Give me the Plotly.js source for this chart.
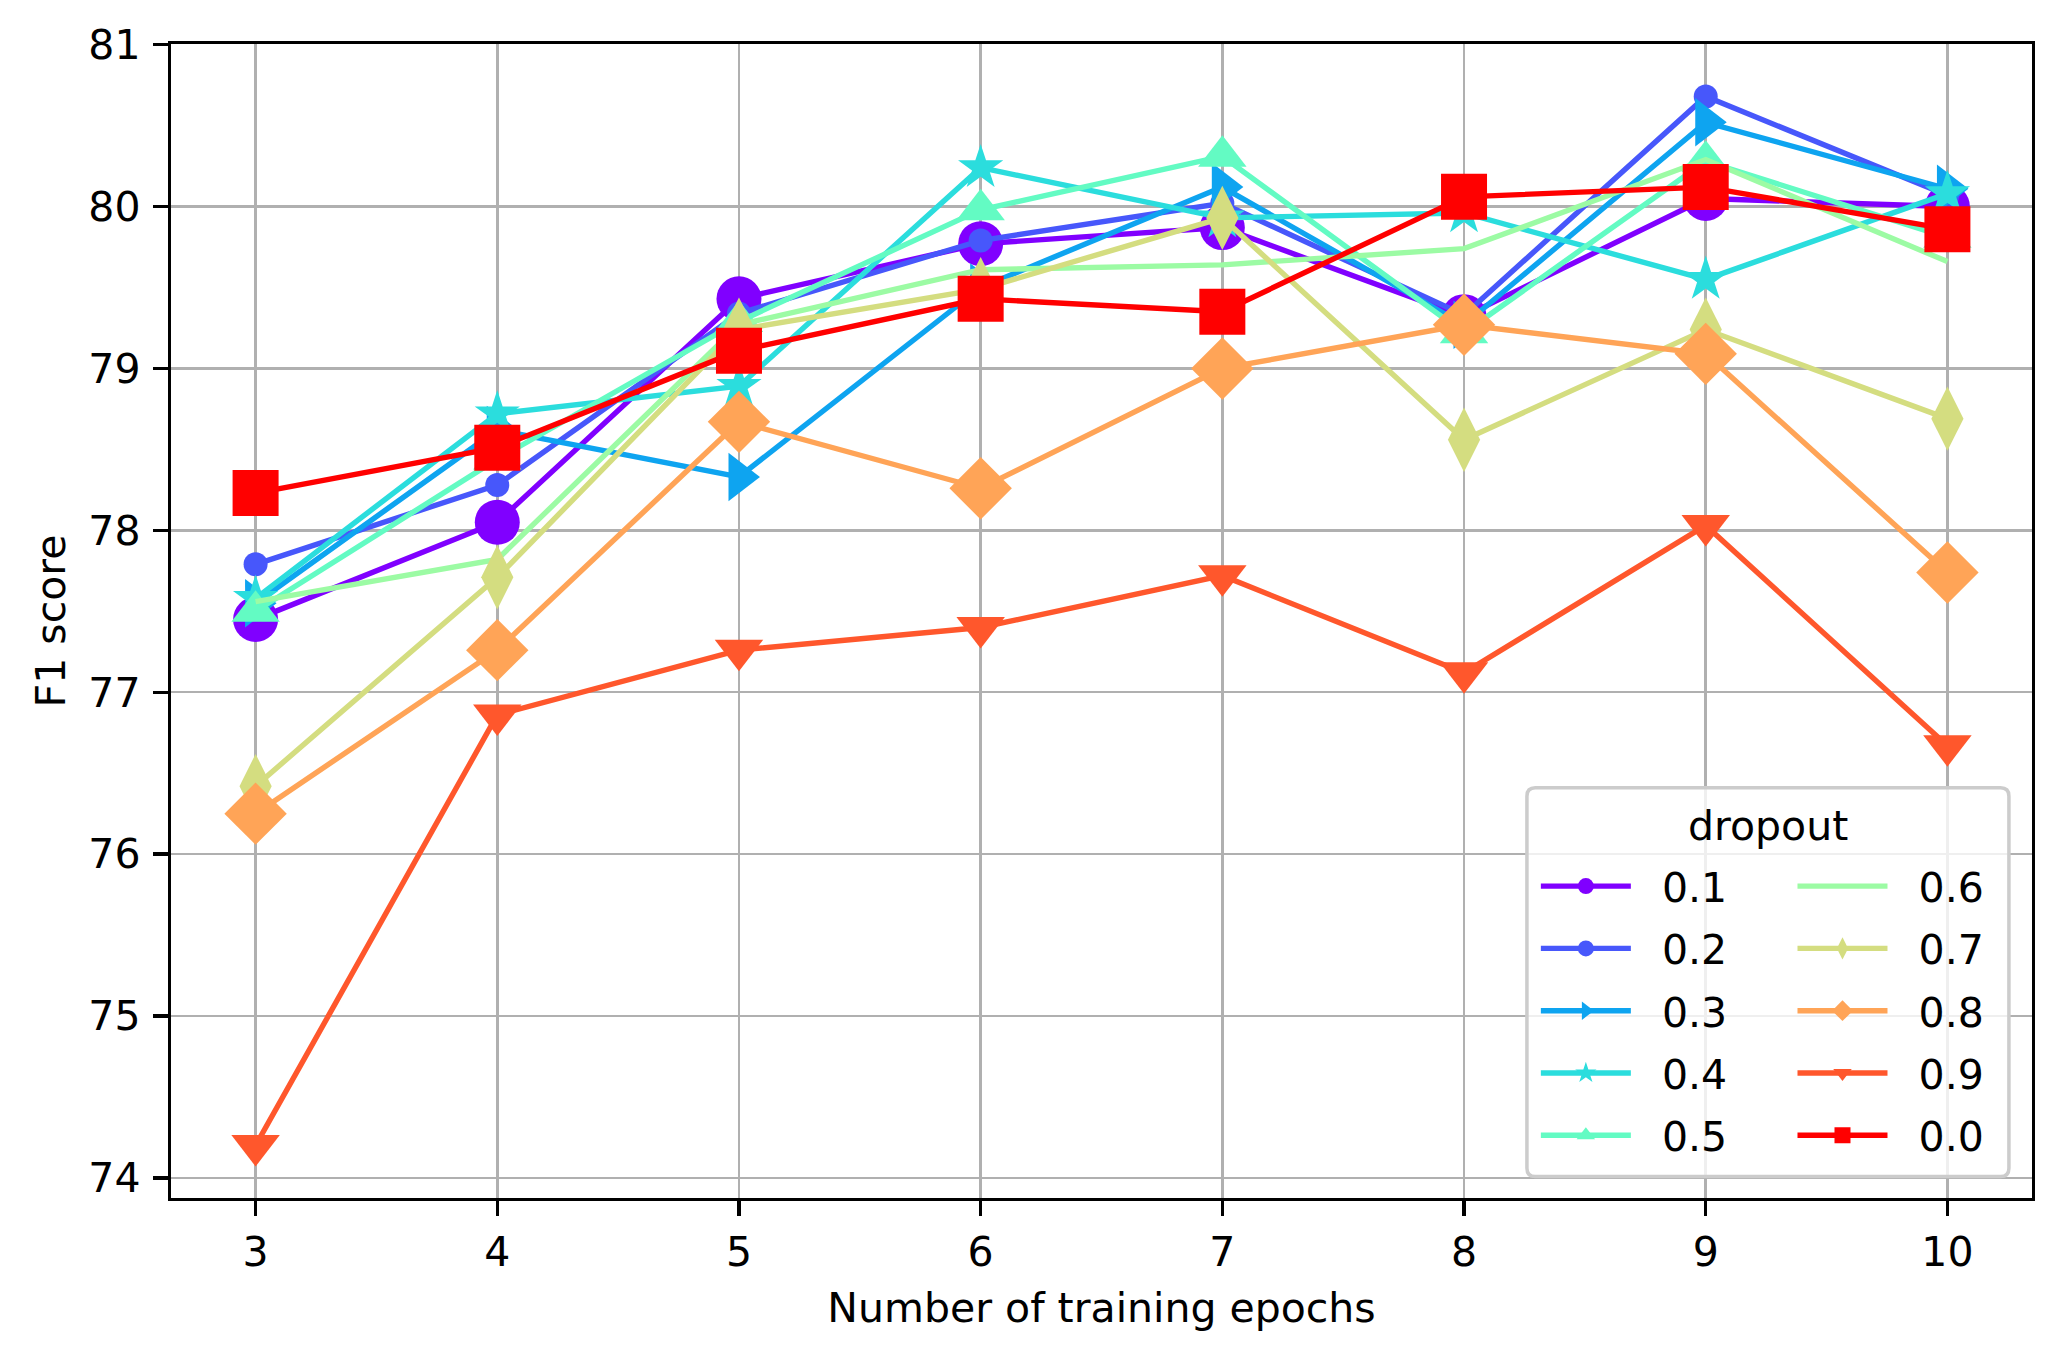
<!DOCTYPE html>
<html>
<head>
<meta charset="utf-8">
<script src="https://cdn.plot.ly/plotly-3.0.1.min.js"></script>
<style>
  body { margin: 0; padding: 0; background: #ffffff; }
  #chart { width: 2060px; height: 1358px; }
</style>
</head>
<body>
<div id="chart"></div>
<script>
// epochs on the x axis
var epochs = [3, 4, 5, 6, 7, 8, 9, 10];

// F1 score per dropout value
var f1_d01 = [77.45, 78.05, 79.43, 79.77, 79.87, 79.32, 80.05, 80.00];
var f1_d02 = [77.79, 78.28, 79.34, 79.79, 80.02, 79.33, 80.68, 80.07];
var f1_d03 = [77.55, 78.62, 78.33, 79.50, 80.12, 79.27, 80.52, 80.11];
var f1_d04 = [77.58, 78.72, 78.89, 80.24, 79.93, 79.96, 79.55, 80.08];
var f1_d05 = [77.50, 78.44, 79.29, 79.98, 80.31, 79.22, 80.28, 79.81];
var f1_d06 = [77.56, 77.82, 79.27, 79.61, 79.64, 79.74, 80.29, 79.66];
var f1_d07 = [76.42, 77.71, 79.24, 79.49, 79.93, 78.56, 79.24, 78.69];
var f1_d08 = [76.25, 77.26, 78.67, 78.26, 79.00, 79.27, 79.09, 77.74];
var f1_d09 = [74.20, 76.86, 77.26, 77.40, 77.72, 77.12, 78.03, 76.67];
var f1_d00 = [78.23, 78.51, 79.11, 79.43, 79.35, 80.06, 80.12, 79.86];

var dropoutLabels = ['0.1', '0.2', '0.3', '0.4', '0.5', '0.6', '0.7', '0.8', '0.9', '0.0'];
var seriesList = [f1_d01, f1_d02, f1_d03, f1_d04, f1_d05, f1_d06, f1_d07, f1_d08, f1_d09, f1_d00];

// rainbow colormap samples + marker style per series
var colors = ['#8000ff', '#4757fb', '#0ea4f0', '#2bdddd', '#63fbc3',
              '#9cfba4', '#d4dd80', '#ffa457', '#ff572c', '#ff0000'];
var symbols = ['circle', 'circle', 'triangle-right', 'star', 'triangle-up',
               null, 'diamond-tall', 'diamond', 'triangle-down', 'square'];
var sizes = [45, 24, 42, 34, 42, 0, 46, 48, 42, 46];

var FONT = 'DejaVu Sans';
var GAP = '\u00a0\u00a0';   // space between legend symbol and label
var data = [];
for (var i = 0; i < seriesList.length; i++) {
    var trace = {
        x: epochs,
        y: seriesList[i],
        name: GAP + dropoutLabels[i],
        type: 'scatter',
        mode: symbols[i] ? 'lines+markers' : 'lines',
        line: {color: colors[i], width: 5.4},
        legend: i < 5 ? 'legend' : 'legend2',
        legendgroup: 'g' + i,
        cliponaxis: false
    };
    if (symbols[i]) {
        trace.marker = {symbol: symbols[i], size: sizes[i], color: colors[i], line: {width: 0}};
    }
    data.push(trace);
}

// legend frame (paper coords of plot area)
var bx0 = 0.7286, bx1 = 0.9876, by0 = 0.0186, by1 = 0.3554;
var rx = 0.0045, ry = 0.0072;
var framePath = 'M' + (bx0 + rx) + ',' + by1 + ' L' + (bx1 - rx) + ',' + by1 +
    ' Q' + bx1 + ',' + by1 + ' ' + bx1 + ',' + (by1 - ry) +
    ' L' + bx1 + ',' + (by0 + ry) + ' Q' + bx1 + ',' + by0 + ' ' + (bx1 - rx) + ',' + by0 +
    ' L' + (bx0 + rx) + ',' + by0 + ' Q' + bx0 + ',' + by0 + ' ' + bx0 + ',' + (by0 + ry) +
    ' L' + bx0 + ',' + (by1 - ry) + ' Q' + bx0 + ',' + by1 + ' ' + (bx0 + rx) + ',' + by1 + ' Z';

var legendCommon = {
    font: {family: FONT, size: 41, color: '#000000'},
    bgcolor: 'rgba(0,0,0,0)',
    borderwidth: 0,
    itemwidth: 90,
    tracegroupgap: 6,
    yanchor: 'top',
    xanchor: 'left',
    y: 0.299
};

var layout = {
    width: 2060,
    height: 1358,
    paper_bgcolor: '#ffffff',
    plot_bgcolor: '#ffffff',
    font: {family: FONT, size: 41, color: '#000000'},
    margin: {l: 171, r: 28, t: 44, b: 160, pad: 0},
    showlegend: true,
    xaxis: {
        range: [2.65, 10.35],
        tickvals: epochs,
        ticks: 'outside', ticklen: 15, tickwidth: 3.3, tickcolor: '#000000',
        ticklabelstandoff: 0,
        showline: true, mirror: true, linecolor: '#000000', linewidth: 3.3,
        showgrid: true, gridcolor: '#b0b0b0', gridwidth: 2.5,
        zeroline: false,
        tickfont: {family: FONT, size: 41},
        title: {text: 'Number of training epochs', font: {family: FONT, size: 41}, standoff: 19}
    },
    yaxis: {
        range: [73.876, 81.004],
        dtick: 1,
        ticks: 'outside', ticklen: 15, tickwidth: 3.3, tickcolor: '#000000',
        ticklabelstandoff: 4,
        showline: true, mirror: true, linecolor: '#000000', linewidth: 3.3,
        showgrid: true, gridcolor: '#b0b0b0', gridwidth: 2.5,
        zeroline: false,
        tickfont: {family: FONT, size: 41},
        title: {text: 'F1 score', font: {family: FONT, size: 41}, standoff: 11}
    },
    legend: Object.assign({}, legendCommon, {x: 0.7334}),
    legend2: Object.assign({}, legendCommon, {x: 0.8713}),
    shapes: [{
        type: 'path', xref: 'paper', yref: 'paper', layer: 'above',
        path: framePath,
        fillcolor: 'rgba(255,255,255,0.8)',
        line: {color: '#cccccc', width: 3.5}
    }],
    annotations: [{
        xref: 'paper', yref: 'paper', x: 0.8581, y: 0.3225,
        xanchor: 'center', yanchor: 'middle', showarrow: false,
        text: 'dropout', font: {family: FONT, size: 41, color: '#000000'}
    }]
};

Plotly.newPlot('chart', data, layout, {displayModeBar: false, staticPlot: true});
</script>
</body>
</html>
